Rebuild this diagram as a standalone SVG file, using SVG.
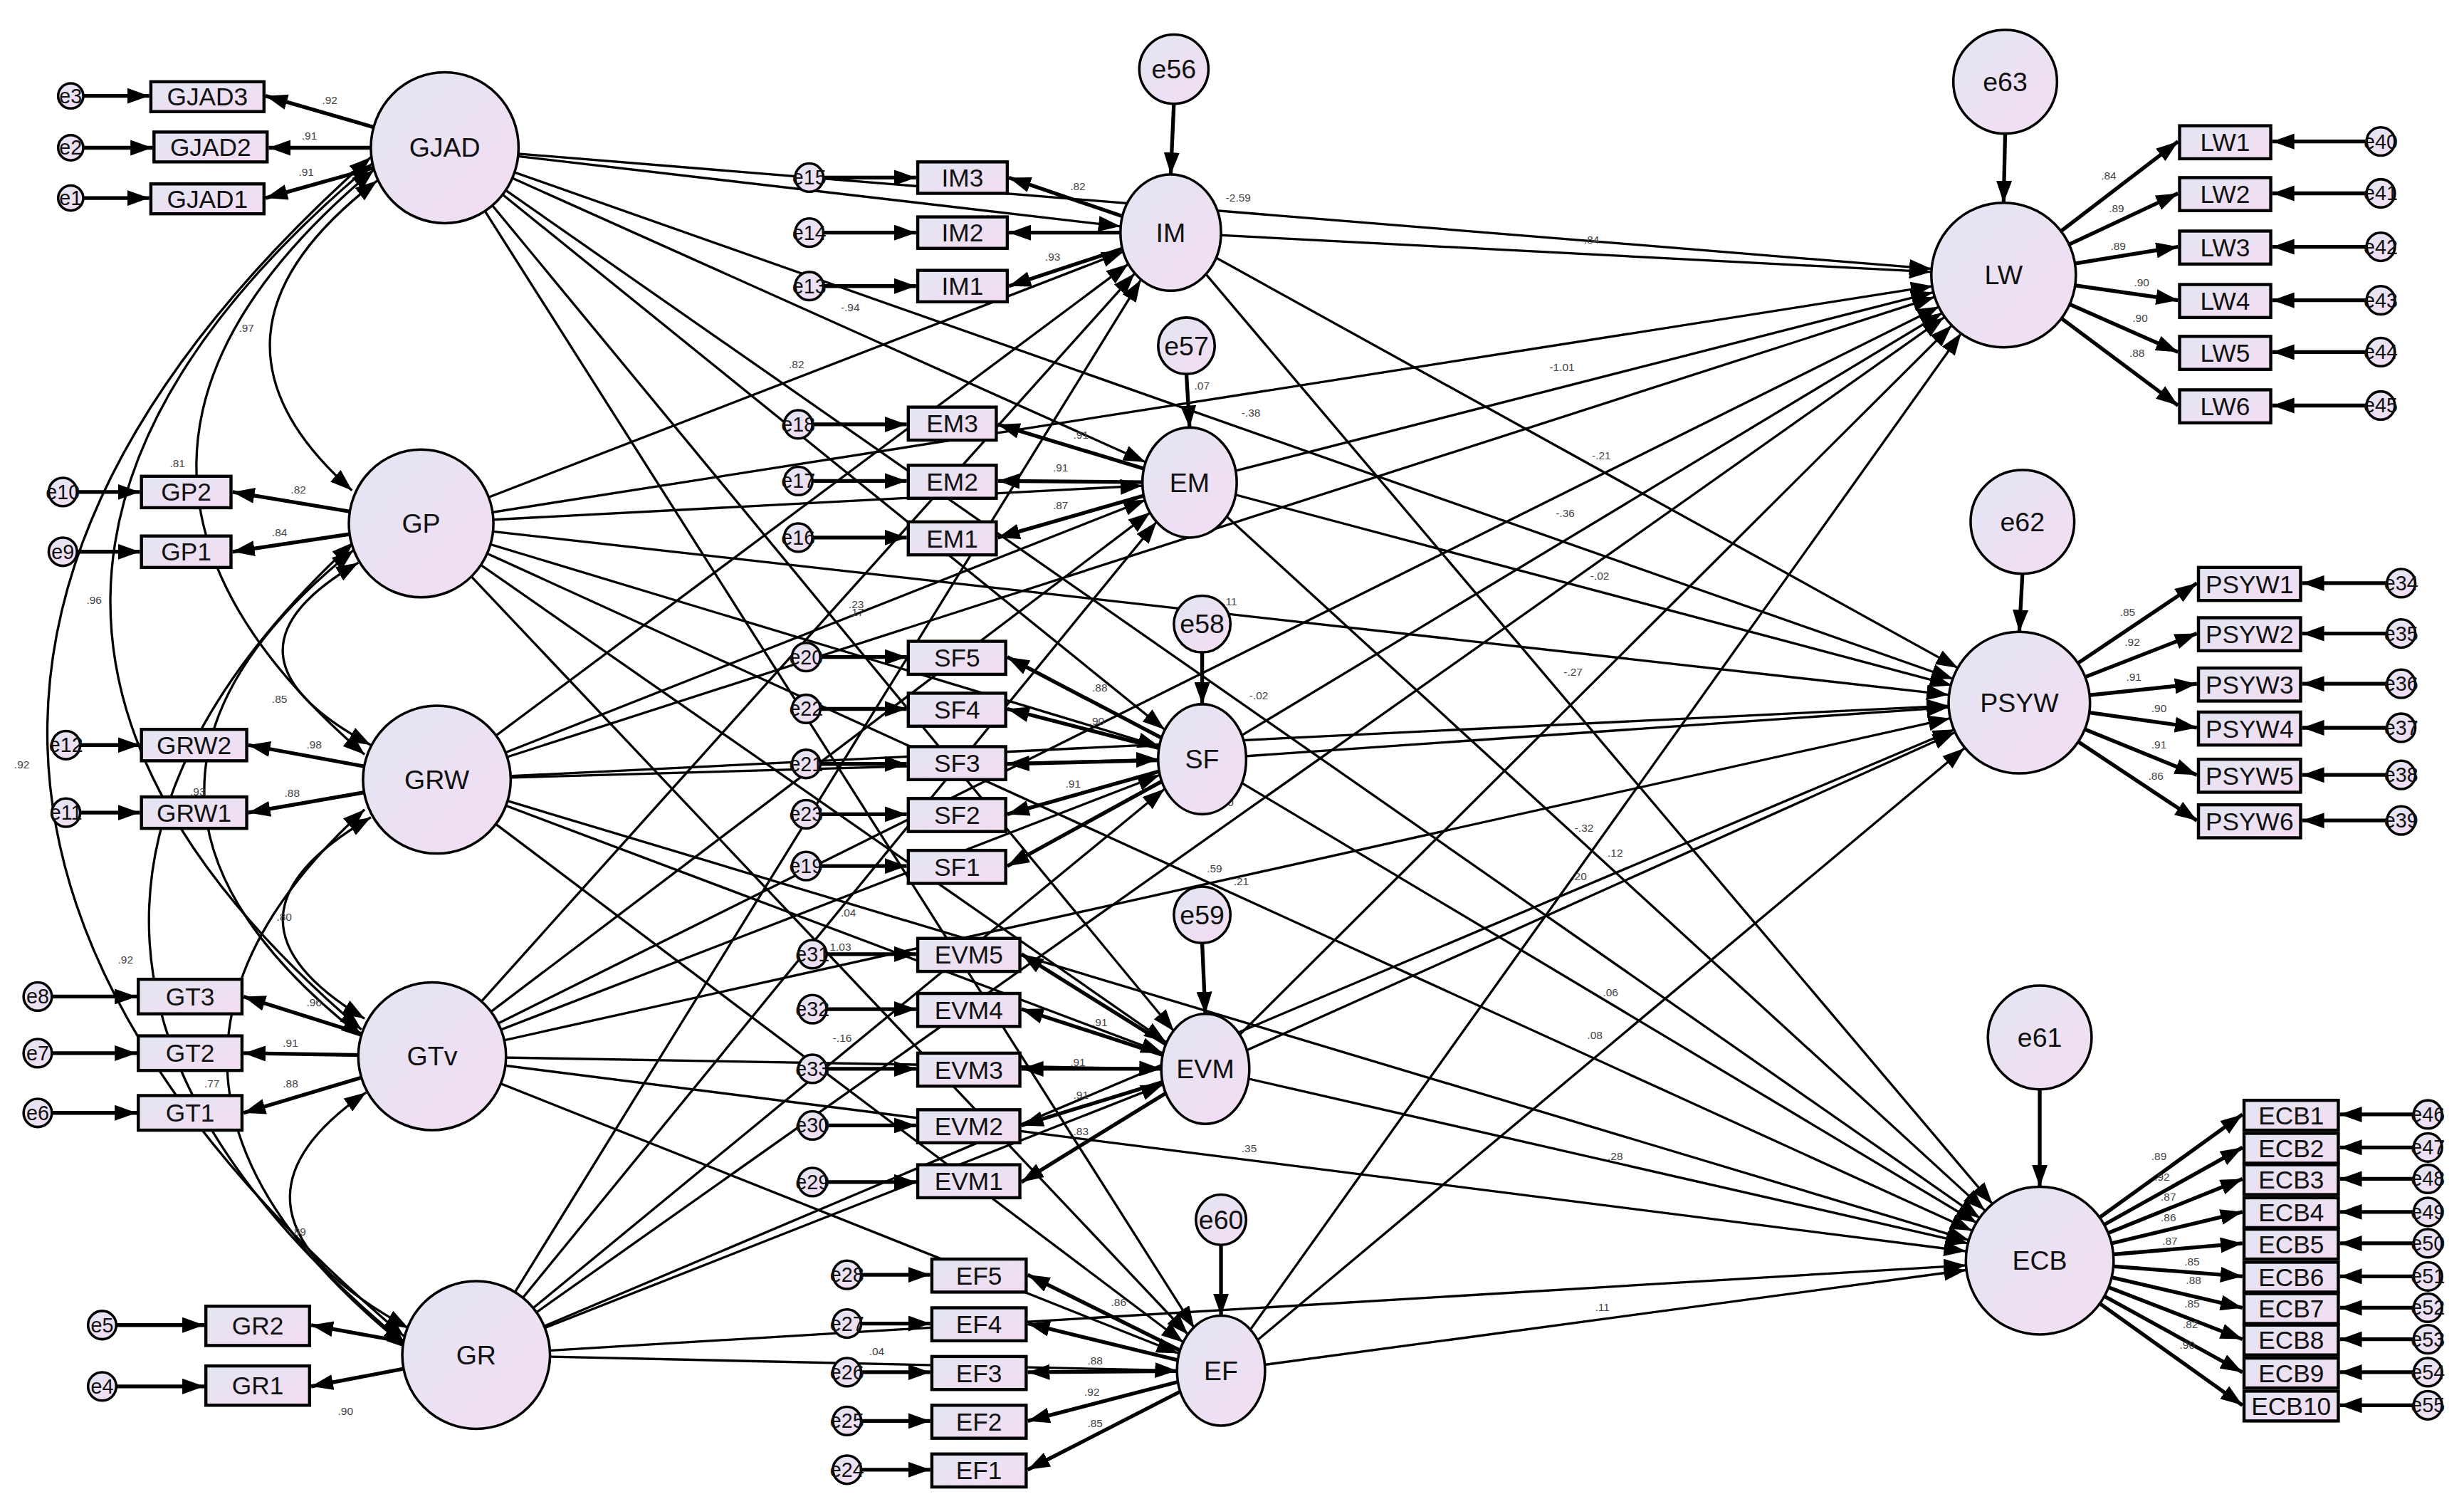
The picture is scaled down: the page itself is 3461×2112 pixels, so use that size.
<svg xmlns="http://www.w3.org/2000/svg" width="3461" height="2112" viewBox="0 0 3461 2112">
<defs>
<linearGradient id="g" x1="0" y1="0" x2="1" y2="1"><stop offset="0" stop-color="#e2e6f2"/><stop offset="1" stop-color="#f4dcf2"/></linearGradient>
<marker id="a" viewBox="0 0 14 10" refX="14" refY="5" markerWidth="14" markerHeight="10" markerUnits="userSpaceOnUse" orient="auto-start-reverse"><path d="M0,0 L14,5 L0,10 z" fill="#000"/></marker>
<style>
.l{stroke:#000;stroke-width:1.5;fill:none;marker-end:url(#a)}
.t{stroke:#000;stroke-width:2.4;fill:none;marker-end:url(#a)}
.c{stroke:#000;stroke-width:1.5;fill:none;marker-end:url(#a);marker-start:url(#a)}
.n{fill:url(#g);stroke:#000;stroke-width:1.6}
.r{fill:url(#g);stroke:#000;stroke-width:2}
.lt{font-family:"Liberation Sans",Arial,sans-serif;font-size:17px;text-anchor:middle;dominant-baseline:central;fill:#111}
.it{font-family:"Liberation Sans",Arial,sans-serif;font-size:16px;text-anchor:middle;dominant-baseline:central;fill:#111}
.et{font-family:"Liberation Sans",Arial,sans-serif;font-size:13px;text-anchor:middle;dominant-baseline:central;fill:#111}
.v{font-family:"Liberation Sans",Arial,sans-serif;font-size:7px;fill:#444}
</style>
</defs>
<rect width="3461" height="2112" fill="#fff"/>
<g transform="scale(2.2073)">
<g id="connectors">
<!-- covariances -->
<path class="c" d="M240,115 Q112,213 224,312"/>
<path class="c" d="M228,358 Q128,416 236,474"/>
<path class="c" d="M236,520 Q126,584 232,648"/>
<path class="c" d="M233,695 Q124,770 260,845"/>
<path class="c" d="M238,108 Q15,294 232,480"/>
<path class="c" d="M237,104 Q-93,380 230,655"/>
<path class="c" d="M236,100 Q-186,475 257,850"/>
<path class="c" d="M225,350 Q32,505 231,660"/>
<path class="c" d="M225,345 Q-51,600 258,855"/>
<path class="c" d="M232,515 Q44,686 260,858"/>
<!-- exo to mediators -->
<path class="l" d="M283,94 L713,144"/><path class="l" d="M268,333 L715,160"/><path class="l" d="M278,496 L718,168"/><path class="l" d="M275,672 L722,174"/><path class="l" d="M303,862 L726,178"/>
<path class="l" d="M283,94 L729,294"/><path class="l" d="M268,333 L727,309"/><path class="l" d="M278,496 L729,318"/><path class="l" d="M275,672 L732,326"/><path class="l" d="M303,862 L736,332"/>
<path class="l" d="M283,94 L741,464"/><path class="l" d="M268,333 L738,475"/><path class="l" d="M278,496 L737,483"/><path class="l" d="M275,672 L738,493"/><path class="l" d="M303,862 L741,502"/>
<path class="l" d="M283,94 L747,656"/><path class="l" d="M268,333 L742,663"/><path class="l" d="M278,496 L740,670"/><path class="l" d="M275,672 L739,680"/><path class="l" d="M303,862 L740,690"/>
<path class="l" d="M283,94 L760,845"/><path class="l" d="M268,333 L756,849"/><path class="l" d="M278,496 L753,854"/><path class="l" d="M275,672 L750,861"/><path class="l" d="M303,862 L749,872"/>
<!-- to LW -->
<path class="l" d="M283,94 L1229,171"/><path class="l" d="M268,333 L1230,182"/><path class="l" d="M278,496 L1231,189"/><path class="l" d="M275,672 L1234,195"/><path class="l" d="M303,862 L1237,202"/>
<path class="l" d="M745,148 L1229,173"/><path class="l" d="M757,307 L1230,186"/><path class="l" d="M765,483 L1236,199"/><path class="l" d="M767,680 L1242,207"/><path class="l" d="M777,872 L1248,212"/>
<!-- to PSYW -->
<path class="l" d="M283,94 L1243,432"/><path class="l" d="M268,333 L1240,442"/><path class="l" d="M278,496 L1240,449"/><path class="l" d="M275,672 L1241,457"/><path class="l" d="M303,862 L1244,464"/>
<path class="l" d="M745,148 L1246,425"/><path class="l" d="M757,307 L1242,436"/><path class="l" d="M765,483 L1240,450"/><path class="l" d="M767,680 L1244,466"/><path class="l" d="M777,872 L1250,476"/>
<!-- to ECB -->
<path class="l" d="M283,94 L1260,775"/><path class="l" d="M268,333 L1255,783"/><path class="l" d="M278,496 L1253,789"/><path class="l" d="M275,672 L1251,796"/><path class="l" d="M303,862 L1251,805"/>
<path class="l" d="M745,148 L1268,766"/><path class="l" d="M757,307 L1263,770"/><path class="l" d="M765,483 L1258,778"/><path class="l" d="M767,680 L1252,791"/><path class="l" d="M777,872 L1251,808"/>
<!-- disturbances -->
<path class="t" d="M747,66 L745,111"/><path class="t" d="M755,238 L757,272"/><path class="t" d="M765,415 L765,448"/><path class="t" d="M765,600 L767,645"/><path class="t" d="M777,792 L777,837"/>
<path class="t" d="M1276,85 L1275,129"/><path class="t" d="M1287,365 L1285,402"/><path class="t" d="M1298,693 L1298,755"/>
<!-- loadings left -->
<path class="t" d="M283,94 L169,61"/><path class="t" d="M283,94 L171,94"/><path class="t" d="M283,94 L169,126"/>
<path class="t" d="M268,333 L148,313"/><path class="t" d="M268,333 L148,351"/>
<path class="t" d="M278,496 L158,474"/><path class="t" d="M278,496 L158,517"/>
<path class="t" d="M275,672 L155,634"/><path class="t" d="M275,672 L155,670"/><path class="t" d="M275,672 L155,708"/>
<path class="t" d="M303,862 L198,843"/><path class="t" d="M303,862 L198,882"/>
<path class="t" d="M745,148 L642,113"/><path class="t" d="M745,148 L642,148"/><path class="t" d="M745,148 L642,182"/>
<path class="t" d="M757,307 L635,270"/><path class="t" d="M757,307 L635,306"/><path class="t" d="M757,307 L635,342"/>
<path class="t" d="M765,483 L641,418"/><path class="t" d="M765,483 L641,451"/><path class="t" d="M765,483 L641,486"/><path class="t" d="M765,483 L641,518"/><path class="t" d="M765,483 L641,551"/>
<path class="t" d="M767,680 L650,607"/><path class="t" d="M767,680 L650,642"/><path class="t" d="M767,680 L650,680"/><path class="t" d="M767,680 L650,716"/><path class="t" d="M767,680 L650,752"/>
<path class="t" d="M777,872 L654,811"/><path class="t" d="M777,872 L654,842"/><path class="t" d="M777,872 L654,873"/><path class="t" d="M777,872 L654,904"/><path class="t" d="M777,872 L654,935"/>
<!-- loadings right -->
<path class="t" d="M1275,175 L1386,90"/><path class="t" d="M1275,175 L1386,123"/><path class="t" d="M1275,175 L1386,157"/><path class="t" d="M1275,175 L1386,191"/><path class="t" d="M1275,175 L1386,224"/><path class="t" d="M1275,175 L1386,258"/>
<path class="t" d="M1285,447 L1398,371"/><path class="t" d="M1285,447 L1398,403"/><path class="t" d="M1285,447 L1398,435"/><path class="t" d="M1285,447 L1398,463"/><path class="t" d="M1285,447 L1398,493"/><path class="t" d="M1285,447 L1398,522"/>
<path class="t" d="M1298,802 L1427,709"/><path class="t" d="M1298,802 L1427,730"/><path class="t" d="M1298,802 L1427,750"/><path class="t" d="M1298,802 L1427,771"/><path class="t" d="M1298,802 L1427,791"/><path class="t" d="M1298,802 L1427,812"/><path class="t" d="M1298,802 L1427,832"/><path class="t" d="M1298,802 L1427,852"/><path class="t" d="M1298,802 L1427,873"/><path class="t" d="M1298,802 L1427,894"/>
<!-- errors to indicators left -->
<path class="t" d="M53,61 L95,61"/><path class="t" d="M53,94 L97,94"/><path class="t" d="M53,126 L95,126"/>
<path class="t" d="M49,313 L89,313"/><path class="t" d="M49,351 L89,351"/>
<path class="t" d="M51,474 L89,474"/><path class="t" d="M51,517 L89,517"/>
<path class="t" d="M33,634 L87,634"/><path class="t" d="M33,670 L87,670"/><path class="t" d="M33,708 L87,708"/>
<path class="t" d="M74,843 L130,843"/><path class="t" d="M74,882 L130,882"/>
<path class="t" d="M524,113 L583,113"/><path class="t" d="M524,148 L583,148"/><path class="t" d="M524,182 L583,182"/>
<path class="t" d="M517,270 L577,270"/><path class="t" d="M517,306 L577,306"/><path class="t" d="M517,342 L577,342"/>
<path class="t" d="M522,418 L577,418"/><path class="t" d="M522,451 L577,451"/><path class="t" d="M522,486 L577,486"/><path class="t" d="M522,518 L577,518"/><path class="t" d="M522,551 L577,551"/>
<path class="t" d="M526,607 L583,607"/><path class="t" d="M526,642 L583,642"/><path class="t" d="M526,680 L583,680"/><path class="t" d="M526,716 L583,716"/><path class="t" d="M526,752 L583,752"/>
<path class="t" d="M548,811 L592,811"/><path class="t" d="M548,842 L592,842"/><path class="t" d="M548,873 L592,873"/><path class="t" d="M548,904 L592,904"/><path class="t" d="M548,935 L592,935"/>
<!-- errors to indicators right -->
<path class="t" d="M1506,90 L1446,90"/><path class="t" d="M1506,123 L1446,123"/><path class="t" d="M1506,157 L1446,157"/><path class="t" d="M1506,191 L1446,191"/><path class="t" d="M1506,224 L1446,224"/><path class="t" d="M1506,258 L1446,258"/>
<path class="t" d="M1519,371 L1465,371"/><path class="t" d="M1519,403 L1465,403"/><path class="t" d="M1519,435 L1465,435"/><path class="t" d="M1519,463 L1465,463"/><path class="t" d="M1519,493 L1465,493"/><path class="t" d="M1519,522 L1465,522"/>
<path class="t" d="M1536,709 L1489,709"/><path class="t" d="M1536,730 L1489,730"/><path class="t" d="M1536,750 L1489,750"/><path class="t" d="M1536,771 L1489,771"/><path class="t" d="M1536,791 L1489,791"/><path class="t" d="M1536,812 L1489,812"/><path class="t" d="M1536,832 L1489,832"/><path class="t" d="M1536,852 L1489,852"/><path class="t" d="M1536,873 L1489,873"/><path class="t" d="M1536,894 L1489,894"/>
</g>
<g id="labels" class="v">
<text x="205" y="66">.92</text><text x="192" y="89">.91</text><text x="190" y="112">.91</text>
<text x="108" y="297">.81</text><text x="185" y="314">.82</text><text x="173" y="341">.84</text>
<text x="195" y="476">.98</text><text x="121" y="506">.93</text><text x="181" y="507">.88</text>
<text x="195" y="640">.96</text><text x="180" y="666">.91</text><text x="180" y="692">.88</text><text x="130" y="692">.77</text>
<text x="215" y="900">.90</text>
<text x="152" y="211">.97</text><text x="173" y="447">.85</text><text x="176" y="586">.80</text><text x="185" y="786">.89</text>
<text x="55" y="384">.96</text><text x="9" y="489">.92</text><text x="75" y="613">.92</text>
<text x="681" y="121">.82</text><text x="665" y="166">.93</text>
<text x="683" y="279">.91</text><text x="670" y="300">.91</text><text x="670" y="324">.87</text>
<text x="695" y="440">.88</text><text x="693" y="461">.90</text><text x="678" y="501">.91</text>
<text x="695" y="653">.91</text><text x="681" y="678">.91</text><text x="683" y="699">.91</text><text x="683" y="722">.83</text>
<text x="707" y="831">.86</text><text x="692" y="868">.88</text><text x="690" y="888">.92</text><text x="692" y="908">.85</text>
<text x="1337" y="114">.84</text><text x="1342" y="135">.89</text><text x="1343" y="159">.89</text><text x="1358" y="182">.90</text><text x="1357" y="205">.90</text><text x="1355" y="227">.88</text>
<text x="1349" y="392">.85</text><text x="1352" y="411">.92</text><text x="1353" y="433">.91</text><text x="1369" y="453">.90</text><text x="1369" y="476">.91</text><text x="1367" y="496">.86</text>
<text x="1369" y="738">.89</text><text x="1371" y="751">.92</text><text x="1375" y="764">.87</text><text x="1375" y="777">.86</text><text x="1376" y="792">.87</text><text x="1390" y="805">.85</text><text x="1391" y="817">.88</text><text x="1390" y="832">.85</text><text x="1389" y="845">.82</text><text x="1387" y="858">.90</text>
<text x="780" y="128">-2.59</text><text x="1008" y="155">.84</text><text x="535" y="198">-.94</text><text x="502" y="234">.82</text><text x="790" y="265">-.38</text>
<text x="986" y="236">-1.01</text><text x="1013" y="292">-.21</text><text x="990" y="329">-.36</text><text x="1012" y="369">-.02</text><text x="995" y="430">-.27</text>
<text x="1002" y="529">-.32</text><text x="1023" y="545">.12</text><text x="1000" y="560">.20</text><text x="1020" y="634">.06</text><text x="1010" y="661">.08</text>
<text x="1023" y="738">.28</text><text x="790" y="733">.35</text><text x="1015" y="834">.11</text><text x="787" y="855">-.12</text><text x="553" y="862">.04</text>
<text x="768" y="555">.59</text><text x="785" y="563">.21</text><text x="773" y="513">-.40</text><text x="778" y="385">.11</text><text x="795" y="445">-.02</text>
<text x="540" y="392">.17</text><text x="540" y="387">.23</text><text x="760" y="330">-.0</text><text x="760" y="248">.07</text><text x="535" y="583">.04</text><text x="528" y="605">1.03</text><text x="530" y="663">-.16</text>
</g>
<g id="GJAD"><ellipse class="n" cx="283" cy="94" rx="47" ry="48"/><text class="lt" x="283" y="94">GJAD</text></g>
<g id="GP"><ellipse class="n" cx="268" cy="333" rx="46" ry="47"/><text class="lt" x="268" y="333">GP</text></g>
<g id="GRW"><ellipse class="n" cx="278" cy="496" rx="47" ry="47"/><text class="lt" x="278" y="496">GRW</text></g>
<g id="GTv"><ellipse class="n" cx="275" cy="672" rx="47" ry="47"/><text class="lt" x="275" y="672">GTv</text></g>
<g id="GR"><ellipse class="n" cx="303" cy="862" rx="47" ry="47"/><text class="lt" x="303" y="862">GR</text></g>
<g id="IM"><ellipse class="n" cx="745" cy="148" rx="32" ry="37"/><text class="lt" x="745" y="148">IM</text></g>
<g id="EM"><ellipse class="n" cx="757" cy="307" rx="30" ry="35"/><text class="lt" x="757" y="307">EM</text></g>
<g id="SF"><ellipse class="n" cx="765" cy="483" rx="28" ry="35"/><text class="lt" x="765" y="483">SF</text></g>
<g id="EVM"><ellipse class="n" cx="767" cy="680" rx="28" ry="35"/><text class="lt" x="767" y="680">EVM</text></g>
<g id="EF"><ellipse class="n" cx="777" cy="872" rx="28" ry="35"/><text class="lt" x="777" y="872">EF</text></g>
<g id="LW"><ellipse class="n" cx="1275" cy="175" rx="46" ry="46"/><text class="lt" x="1275" y="175">LW</text></g>
<g id="PSYW"><ellipse class="n" cx="1285" cy="447" rx="45" ry="45"/><text class="lt" x="1285" y="447">PSYW</text></g>
<g id="ECB"><ellipse class="n" cx="1298" cy="802" rx="47" ry="47"/><text class="lt" x="1298" y="802">ECB</text></g>
<g id="e56"><circle class="n" cx="747" cy="44" r="22"/><text class="lt" x="747" y="44">e56</text></g>
<g id="e57"><circle class="n" cx="755" cy="220" r="18"/><text class="lt" x="755" y="220">e57</text></g>
<g id="e58"><circle class="n" cx="765" cy="397" r="18"/><text class="lt" x="765" y="397">e58</text></g>
<g id="e59"><circle class="n" cx="765" cy="582" r="18"/><text class="lt" x="765" y="582">e59</text></g>
<g id="e60"><circle class="n" cx="777" cy="776" r="16"/><text class="lt" x="777" y="776">e60</text></g>
<g id="e63"><circle class="n" cx="1276" cy="52" r="33"/><text class="lt" x="1276" y="52">e63</text></g>
<g id="e62"><circle class="n" cx="1287" cy="332" r="33"/><text class="lt" x="1287" y="332">e62</text></g>
<g id="e61"><circle class="n" cx="1298" cy="660" r="33"/><text class="lt" x="1298" y="660">e61</text></g>
<!-- indicators left -->
<g id="GJAD3"><rect class="r" x="96" y="52" width="72" height="19"/><text class="it" x="132" y="61.5">GJAD3</text></g>
<g id="GJAD2"><rect class="r" x="98" y="84" width="72" height="19"/><text class="it" x="134" y="93.5">GJAD2</text></g>
<g id="GJAD1"><rect class="r" x="96" y="117" width="72" height="19"/><text class="it" x="132" y="126.5">GJAD1</text></g>
<g id="GP2"><rect class="r" x="90" y="303" width="57" height="20"/><text class="it" x="118.5" y="313">GP2</text></g>
<g id="GP1"><rect class="r" x="90" y="341" width="57" height="20"/><text class="it" x="118.5" y="351">GP1</text></g>
<g id="GRW2"><rect class="r" x="90" y="464" width="67" height="20"/><text class="it" x="123.5" y="474">GRW2</text></g>
<g id="GRW1"><rect class="r" x="90" y="507" width="67" height="20"/><text class="it" x="123.5" y="517">GRW1</text></g>
<g id="GT3"><rect class="r" x="88" y="623" width="66" height="22"/><text class="it" x="121" y="634">GT3</text></g>
<g id="GT2"><rect class="r" x="88" y="659" width="66" height="22"/><text class="it" x="121" y="670">GT2</text></g>
<g id="GT1"><rect class="r" x="88" y="697" width="66" height="22"/><text class="it" x="121" y="708">GT1</text></g>
<g id="GR2"><rect class="r" x="131" y="831" width="66" height="25"/><text class="it" x="164" y="843.5">GR2</text></g>
<g id="GR1"><rect class="r" x="131" y="869" width="66" height="25"/><text class="it" x="164" y="881.5">GR1</text></g>
<g id="IM3"><rect class="r" x="584" y="103" width="57" height="20"/><text class="it" x="612.5" y="113">IM3</text></g>
<g id="IM2"><rect class="r" x="584" y="138" width="57" height="20"/><text class="it" x="612.5" y="148">IM2</text></g>
<g id="IM1"><rect class="r" x="584" y="172" width="57" height="20"/><text class="it" x="612.5" y="182">IM1</text></g>
<g id="EM3"><rect class="r" x="578" y="259" width="56" height="21"/><text class="it" x="606" y="269.5">EM3</text></g>
<g id="EM2"><rect class="r" x="578" y="296" width="56" height="21"/><text class="it" x="606" y="306.5">EM2</text></g>
<g id="EM1"><rect class="r" x="578" y="332" width="56" height="21"/><text class="it" x="606" y="342.5">EM1</text></g>
<g id="SF5"><rect class="r" x="578" y="408" width="62" height="21"/><text class="it" x="609" y="418.5">SF5</text></g>
<g id="SF4"><rect class="r" x="578" y="441" width="62" height="21"/><text class="it" x="609" y="451.5">SF4</text></g>
<g id="SF3"><rect class="r" x="578" y="475" width="62" height="21"/><text class="it" x="609" y="485.5">SF3</text></g>
<g id="SF2"><rect class="r" x="578" y="508" width="62" height="21"/><text class="it" x="609" y="518.5">SF2</text></g>
<g id="SF1"><rect class="r" x="578" y="541" width="62" height="21"/><text class="it" x="609" y="551.5">SF1</text></g>
<g id="EVM5"><rect class="r" x="584" y="597" width="65" height="21"/><text class="it" x="616.5" y="607.5">EVM5</text></g>
<g id="EVM4"><rect class="r" x="584" y="632" width="65" height="21"/><text class="it" x="616.5" y="642.5">EVM4</text></g>
<g id="EVM3"><rect class="r" x="584" y="670" width="65" height="21"/><text class="it" x="616.5" y="680.5">EVM3</text></g>
<g id="EVM2"><rect class="r" x="584" y="706" width="65" height="21"/><text class="it" x="616.5" y="716.5">EVM2</text></g>
<g id="EVM1"><rect class="r" x="584" y="741" width="65" height="21"/><text class="it" x="616.5" y="751.5">EVM1</text></g>
<g id="EF5"><rect class="r" x="593" y="801" width="60" height="21"/><text class="it" x="623" y="811.5">EF5</text></g>
<g id="EF4"><rect class="r" x="593" y="832" width="60" height="21"/><text class="it" x="623" y="842.5">EF4</text></g>
<g id="EF3"><rect class="r" x="593" y="863" width="60" height="21"/><text class="it" x="623" y="873.5">EF3</text></g>
<g id="EF2"><rect class="r" x="593" y="894" width="60" height="21"/><text class="it" x="623" y="904.5">EF2</text></g>
<g id="EF1"><rect class="r" x="593" y="925" width="60" height="21"/><text class="it" x="623" y="935.5">EF1</text></g>
<!-- indicators right -->
<g id="LW1"><rect class="r" x="1387" y="80" width="58" height="21"/><text class="it" x="1416" y="90.5">LW1</text></g>
<g id="LW2"><rect class="r" x="1387" y="113" width="58" height="21"/><text class="it" x="1416" y="123.5">LW2</text></g>
<g id="LW3"><rect class="r" x="1387" y="147" width="58" height="21"/><text class="it" x="1416" y="157.5">LW3</text></g>
<g id="LW4"><rect class="r" x="1387" y="181" width="58" height="21"/><text class="it" x="1416" y="191.5">LW4</text></g>
<g id="LW5"><rect class="r" x="1387" y="214" width="58" height="21"/><text class="it" x="1416" y="224.5">LW5</text></g>
<g id="LW6"><rect class="r" x="1387" y="248" width="58" height="21"/><text class="it" x="1416" y="258.5">LW6</text></g>
<g id="PSYW1"><rect class="r" x="1399" y="361" width="65" height="21"/><text class="it" x="1431.5" y="371.5">PSYW1</text></g>
<g id="PSYW2"><rect class="r" x="1399" y="393" width="65" height="21"/><text class="it" x="1431.5" y="403.5">PSYW2</text></g>
<g id="PSYW3"><rect class="r" x="1399" y="425" width="65" height="21"/><text class="it" x="1431.5" y="435.5">PSYW3</text></g>
<g id="PSYW4"><rect class="r" x="1399" y="453" width="65" height="21"/><text class="it" x="1431.5" y="463.5">PSYW4</text></g>
<g id="PSYW5"><rect class="r" x="1399" y="483" width="65" height="21"/><text class="it" x="1431.5" y="493.5">PSYW5</text></g>
<g id="PSYW6"><rect class="r" x="1399" y="512" width="65" height="21"/><text class="it" x="1431.5" y="522.5">PSYW6</text></g>
<g id="ECB1"><rect class="r" x="1428" y="700" width="60" height="19"/><text class="it" x="1458" y="709.5">ECB1</text></g>
<g id="ECB2"><rect class="r" x="1428" y="721" width="60" height="19"/><text class="it" x="1458" y="730.5">ECB2</text></g>
<g id="ECB3"><rect class="r" x="1428" y="741" width="60" height="19"/><text class="it" x="1458" y="750.5">ECB3</text></g>
<g id="ECB4"><rect class="r" x="1428" y="762" width="60" height="19"/><text class="it" x="1458" y="771.5">ECB4</text></g>
<g id="ECB5"><rect class="r" x="1428" y="782" width="60" height="19"/><text class="it" x="1458" y="791.5">ECB5</text></g>
<g id="ECB6"><rect class="r" x="1428" y="803" width="60" height="19"/><text class="it" x="1458" y="812.5">ECB6</text></g>
<g id="ECB7"><rect class="r" x="1428" y="823" width="60" height="19"/><text class="it" x="1458" y="832.5">ECB7</text></g>
<g id="ECB8"><rect class="r" x="1428" y="843" width="60" height="19"/><text class="it" x="1458" y="852.5">ECB8</text></g>
<g id="ECB9"><rect class="r" x="1428" y="864" width="60" height="19"/><text class="it" x="1458" y="873.5">ECB9</text></g>
<g id="ECB10"><rect class="r" x="1428" y="885" width="60" height="19"/><text class="it" x="1458" y="894.5">ECB10</text></g>
<!-- error terms -->
<g id="e3"><circle class="n" cx="45" cy="61" r="8"/><text class="et" x="45" y="61">e3</text></g>
<g id="e2"><circle class="n" cx="45" cy="94" r="8"/><text class="et" x="45" y="94">e2</text></g>
<g id="e1"><circle class="n" cx="45" cy="126" r="8"/><text class="et" x="45" y="126">e1</text></g>
<g id="e10"><circle class="n" cx="40" cy="313" r="9"/><text class="et" x="40" y="313">e10</text></g>
<g id="e9"><circle class="n" cx="40" cy="351" r="9"/><text class="et" x="40" y="351">e9</text></g>
<g id="e12"><circle class="n" cx="42" cy="474" r="9"/><text class="et" x="42" y="474">e12</text></g>
<g id="e11"><circle class="n" cx="42" cy="517" r="9"/><text class="et" x="42" y="517">e11</text></g>
<g id="e8"><circle class="n" cx="24" cy="634" r="9"/><text class="et" x="24" y="634">e8</text></g>
<g id="e7"><circle class="n" cx="24" cy="670" r="9"/><text class="et" x="24" y="670">e7</text></g>
<g id="e6"><circle class="n" cx="24" cy="708" r="9"/><text class="et" x="24" y="708">e6</text></g>
<g id="e5"><circle class="n" cx="65" cy="843" r="9"/><text class="et" x="65" y="843">e5</text></g>
<g id="e4"><circle class="n" cx="65" cy="882" r="9"/><text class="et" x="65" y="882">e4</text></g>
<g id="e15"><circle class="n" cx="515" cy="113" r="9"/><text class="et" x="515" y="113">e15</text></g>
<g id="e14"><circle class="n" cx="515" cy="148" r="9"/><text class="et" x="515" y="148">e14</text></g>
<g id="e13"><circle class="n" cx="515" cy="182" r="9"/><text class="et" x="515" y="182">e13</text></g>
<g id="e18"><circle class="n" cx="508" cy="270" r="9"/><text class="et" x="508" y="270">e18</text></g>
<g id="e17"><circle class="n" cx="508" cy="306" r="9"/><text class="et" x="508" y="306">e17</text></g>
<g id="e16"><circle class="n" cx="508" cy="342" r="9"/><text class="et" x="508" y="342">e16</text></g>
<g id="e20"><circle class="n" cx="513" cy="418" r="9"/><text class="et" x="513" y="418">e20</text></g>
<g id="e22"><circle class="n" cx="513" cy="451" r="9"/><text class="et" x="513" y="451">e22</text></g>
<g id="e21"><circle class="n" cx="513" cy="486" r="9"/><text class="et" x="513" y="486">e21</text></g>
<g id="e23"><circle class="n" cx="513" cy="518" r="9"/><text class="et" x="513" y="518">e23</text></g>
<g id="e19"><circle class="n" cx="513" cy="551" r="9"/><text class="et" x="513" y="551">e19</text></g>
<g id="e31"><circle class="n" cx="517" cy="607" r="9"/><text class="et" x="517" y="607">e31</text></g>
<g id="e32"><circle class="n" cx="517" cy="642" r="9"/><text class="et" x="517" y="642">e32</text></g>
<g id="e33"><circle class="n" cx="517" cy="680" r="9"/><text class="et" x="517" y="680">e33</text></g>
<g id="e30"><circle class="n" cx="517" cy="716" r="9"/><text class="et" x="517" y="716">e30</text></g>
<g id="e29"><circle class="n" cx="517" cy="752" r="9"/><text class="et" x="517" y="752">e29</text></g>
<g id="e28"><circle class="n" cx="539" cy="811" r="9"/><text class="et" x="539" y="811">e28</text></g>
<g id="e27"><circle class="n" cx="539" cy="842" r="9"/><text class="et" x="539" y="842">e27</text></g>
<g id="e26"><circle class="n" cx="539" cy="873" r="9"/><text class="et" x="539" y="873">e26</text></g>
<g id="e25"><circle class="n" cx="539" cy="904" r="9"/><text class="et" x="539" y="904">e25</text></g>
<g id="e24"><circle class="n" cx="539" cy="935" r="9"/><text class="et" x="539" y="935">e24</text></g>
<g id="e40"><circle class="n" cx="1515" cy="90" r="9"/><text class="et" x="1515" y="90">e40</text></g>
<g id="e41"><circle class="n" cx="1515" cy="123" r="9"/><text class="et" x="1515" y="123">e41</text></g>
<g id="e42"><circle class="n" cx="1515" cy="157" r="9"/><text class="et" x="1515" y="157">e42</text></g>
<g id="e43"><circle class="n" cx="1515" cy="191" r="9"/><text class="et" x="1515" y="191">e43</text></g>
<g id="e44"><circle class="n" cx="1515" cy="224" r="9"/><text class="et" x="1515" y="224">e44</text></g>
<g id="e45"><circle class="n" cx="1515" cy="258" r="9"/><text class="et" x="1515" y="258">e45</text></g>
<g id="e34"><circle class="n" cx="1528" cy="371" r="9"/><text class="et" x="1528" y="371">e34</text></g>
<g id="e35"><circle class="n" cx="1528" cy="403" r="9"/><text class="et" x="1528" y="403">e35</text></g>
<g id="e36"><circle class="n" cx="1528" cy="435" r="9"/><text class="et" x="1528" y="435">e36</text></g>
<g id="e37"><circle class="n" cx="1528" cy="463" r="9"/><text class="et" x="1528" y="463">e37</text></g>
<g id="e38"><circle class="n" cx="1528" cy="493" r="9"/><text class="et" x="1528" y="493">e38</text></g>
<g id="e39"><circle class="n" cx="1528" cy="522" r="9"/><text class="et" x="1528" y="522">e39</text></g>
<g id="e46"><circle class="n" cx="1545" cy="709" r="9"/><text class="et" x="1545" y="709">e46</text></g>
<g id="e47"><circle class="n" cx="1545" cy="730" r="9"/><text class="et" x="1545" y="730">e47</text></g>
<g id="e48"><circle class="n" cx="1545" cy="750" r="9"/><text class="et" x="1545" y="750">e48</text></g>
<g id="e49"><circle class="n" cx="1545" cy="771" r="9"/><text class="et" x="1545" y="771">e49</text></g>
<g id="e50"><circle class="n" cx="1545" cy="791" r="9"/><text class="et" x="1545" y="791">e50</text></g>
<g id="e51"><circle class="n" cx="1545" cy="812" r="9"/><text class="et" x="1545" y="812">e51</text></g>
<g id="e52"><circle class="n" cx="1545" cy="832" r="9"/><text class="et" x="1545" y="832">e52</text></g>
<g id="e53"><circle class="n" cx="1545" cy="852" r="9"/><text class="et" x="1545" y="852">e53</text></g>
<g id="e54"><circle class="n" cx="1545" cy="873" r="9"/><text class="et" x="1545" y="873">e54</text></g>
<g id="e55"><circle class="n" cx="1545" cy="894" r="9"/><text class="et" x="1545" y="894">e55</text></g>
</g>
</svg>
